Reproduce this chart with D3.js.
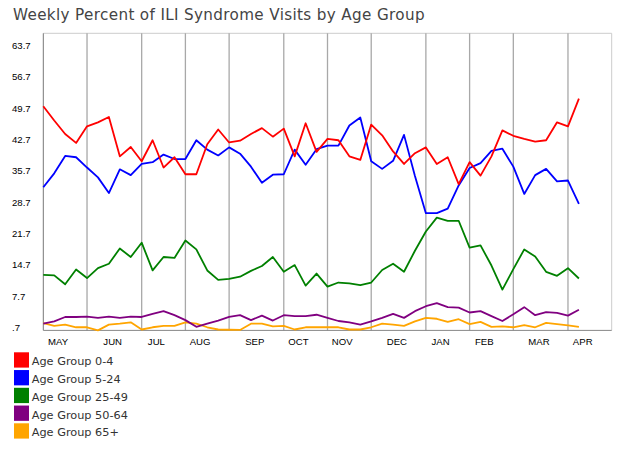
<!DOCTYPE html>
<html>
<head>
<meta charset="utf-8">
<script src="https://cdn.jsdelivr.net/npm/d3@7"></script>
<style>
  html, body { margin: 0; padding: 0; background: #fff; }
  svg { display: block; }
</style>
</head>
<body>
<svg id="chart" width="625" height="450"></svg>
<script>
// ---- data ----
const title = "Weekly Percent of ILI Syndrome Visits by Age Group";
const weeks = d3.range(50); // week index 0..49
const monthLabels = ["MAY","JUN","JUL","AUG","SEP","OCT","NOV","DEC","JAN","FEB","MAR","APR"];
const monthStartWeek = [0, 4, 9, 13, 17, 22, 26, 30, 35, 39, 43, 48];
const totalWeeks = 52;
const yTickValues = [0.7, 7.7, 14.7, 21.7, 28.7, 35.7, 42.7, 49.7, 56.7, 63.7];
const yTickLabels = [".7", "7.7", "14.7", "21.7", "28.7", "35.7", "42.7", "49.7", "56.7", "63.7"];
const yMax = 66.4;

const seriesNames = ["Age Group 0-4", "Age Group 5-24", "Age Group 25-49", "Age Group 50-64", "Age Group 65+"];
const seriesColors = ["#ff0000", "#0000ff", "#008000", "#800080", "#ffa500"];

const age0_4 = [50.1,46.9,43.9,41.9,45.6,46.5,47.7,38.9,41.0,37.8,
                42.5,36.4,38.7,34.9,34.9,41.6,44.9,42.0,42.4,43.9,
                45.2,43.3,45.1,38.9,46.3,39.9,42.8,42.5,38.9,38.1,
                46.0,43.6,40.0,37.2,39.6,40.9,37.2,38.7,32.7,37.6,
                34.6,38.9,44.7,43.5,42.8,42.2,42.5,46.5,45.6,51.8];
const age5_24 = [32.0,35.1,39.0,38.7,36.4,34.2,30.7,36.0,34.7,37.2,
                 37.6,39.3,38.3,38.3,42.5,40.4,39.1,40.9,39.5,36.6,
                 33.0,34.8,34.9,40.4,37.0,40.5,41.3,41.3,45.8,47.6,
                 37.8,36.1,37.9,43.7,34.5,26.2,26.2,27.2,32.4,36.3,
                 37.4,40.1,40.6,36.6,30.5,34.7,36.1,33.3,33.5,28.3];
const age25_49 = [12.4,12.3,10.3,13.6,11.7,13.9,14.9,18.3,16.4,19.6,
                  13.4,16.4,16.2,20.1,18.1,13.4,11.3,11.5,12.0,13.3,
                  14.4,16.4,13.1,14.6,10.0,12.7,9.8,10.7,10.5,10.1,
                  10.7,13.5,14.9,13.1,17.8,22.1,25.2,24.5,24.5,18.5,
                  19.0,14.5,9.1,13.7,18.1,16.5,13.1,12.2,13.9,11.6];
const age50_64 = [1.5,2.0,3.0,3.0,3.1,2.8,3.1,2.8,3.1,3.0,
                  3.7,4.3,3.4,2.3,0.8,1.5,2.2,3.0,3.4,2.3,
                  3.3,2.2,3.4,3.2,3.2,3.5,2.8,2.1,1.8,1.3,
                  2.0,2.8,3.7,2.8,4.3,5.4,6.1,5.2,5.1,4.0,
                  4.3,3.2,2.1,3.6,5.2,3.4,4.1,3.9,3.3,4.6];
const age65plus = [1.6,1.0,1.3,0.7,0.7,0.0,1.3,1.5,1.8,0.2,
                   0.7,1.0,1.0,1.8,1.5,0.7,0.2,0.15,0.1,1.5,
                   1.5,0.9,1.0,0.2,0.7,0.7,0.7,0.7,0.2,0.2,
                   0.7,1.5,1.3,1.0,2.0,2.8,2.6,1.9,2.5,1.4,
                   1.9,0.8,0.9,0.7,1.2,0.7,1.7,1.4,1.1,0.8];
const seriesValues = [age0_4, age5_24, age25_49, age50_64, age65plus];

// ---- layout ----
const svg = d3.select("#chart");
const plot = { left: 43.3, right: 611.7, top: 33.3, bottom: 330.4 };

const x = d3.scaleLinear().domain([0, totalWeeks]).range([plot.left, plot.right]);
const y = d3.scaleLinear().domain([0, yMax]).range([plot.bottom, plot.top]);

// title
svg.append("text")
  .attr("x", 13).attr("y", 20)
  .attr("font-family", "DejaVu Sans, Verdana, sans-serif")
  .attr("font-size", 15.2)
  .attr("fill", "#444")
  .attr("letter-spacing", 0.35)
  .text(title);

// plot frame (top and right light borders)
svg.append("path")
  .attr("d", `M${plot.left},${plot.top}H${plot.right}V${plot.bottom}`)
  .attr("fill", "none").attr("stroke", "#cccccc").attr("stroke-width", 1);

// vertical month gridlines
svg.append("g").selectAll("line")
  .data(monthStartWeek.filter(w => w > 0))
  .join("line")
  .attr("x1", d => x(d)).attr("x2", d => x(d))
  .attr("y1", plot.top).attr("y2", plot.bottom)
  .attr("stroke", "#a8a8a8").attr("stroke-width", 1.3);

// x axis (month labels)
const monthLen = monthStartWeek.map((s, i) => (i < monthStartWeek.length - 1 ? monthStartWeek[i + 1] : totalWeeks) - s);
const labelPos = monthStartWeek.map((s, i) => s + Math.floor((monthLen[i] - 1) / 2) + 0.3);
const xAxis = d3.axisBottom(x)
  .tickValues(labelPos)
  .tickFormat((d, i) => monthLabels[i])
  .tickSize(0).tickPadding(0);
const gx = svg.append("g").attr("transform", `translate(0,${plot.bottom})`).call(xAxis);
gx.select(".domain").remove();
gx.selectAll("text")
  .attr("dy", null).attr("y", 14.6)
  .attr("font-family", "Liberation Sans, Arial, sans-serif")
  .attr("font-size", 9.6).attr("fill", "#000");

// y axis (left-aligned labels)
const yAxis = d3.axisLeft(y)
  .tickValues(yTickValues)
  .tickFormat((d, i) => yTickLabels[i])
  .tickSize(0).tickPadding(0);
const gy = svg.append("g").attr("transform", `translate(${plot.left},0)`).call(yAxis);
gy.select(".domain").remove();
gy.selectAll("text")
  .attr("text-anchor", "start")
  .attr("x", 12 - plot.left)
  .attr("dy", "0.34em")
  .attr("font-family", "Liberation Sans, Arial, sans-serif")
  .attr("font-size", 9.6).attr("fill", "#000");

// axis lines
svg.append("line")
  .attr("x1", plot.left).attr("x2", plot.left)
  .attr("y1", plot.top).attr("y2", plot.bottom)
  .attr("stroke", "#777").attr("stroke-width", 1);
svg.append("line")
  .attr("x1", plot.left).attr("x2", plot.right)
  .attr("y1", plot.bottom).attr("y2", plot.bottom)
  .attr("stroke", "#888").attr("stroke-width", 1);

// series lines (draw from bottom series to top so red is on top)
const line = d3.line().x((d, i) => x(weeks[i])).y(d => y(d));
const order = [4, 3, 2, 1, 0];
svg.append("g").selectAll("path")
  .data(order)
  .join("path")
  .attr("d", k => line(seriesValues[k]))
  .attr("fill", "none")
  .attr("stroke", k => seriesColors[k])
  .attr("stroke-width", 1.8)
  .attr("stroke-linejoin", "round");

// legend
const legend = svg.append("g").attr("transform", "translate(14,352.3)");
const item = legend.selectAll("g").data(seriesNames).join("g")
  .attr("transform", (d, i) => `translate(0,${i * 17.75})`);
item.append("rect")
  .attr("width", 15).attr("height", 15.3)
  .attr("fill", (d, i) => seriesColors[i]);
item.append("text")
  .attr("x", 17.7).attr("y", 13.2)
  .attr("font-family", "DejaVu Sans, Verdana, sans-serif")
  .attr("font-size", 11.3)
  .attr("fill", "#333")
  .text(d => d);
</script>
</body>
</html>
